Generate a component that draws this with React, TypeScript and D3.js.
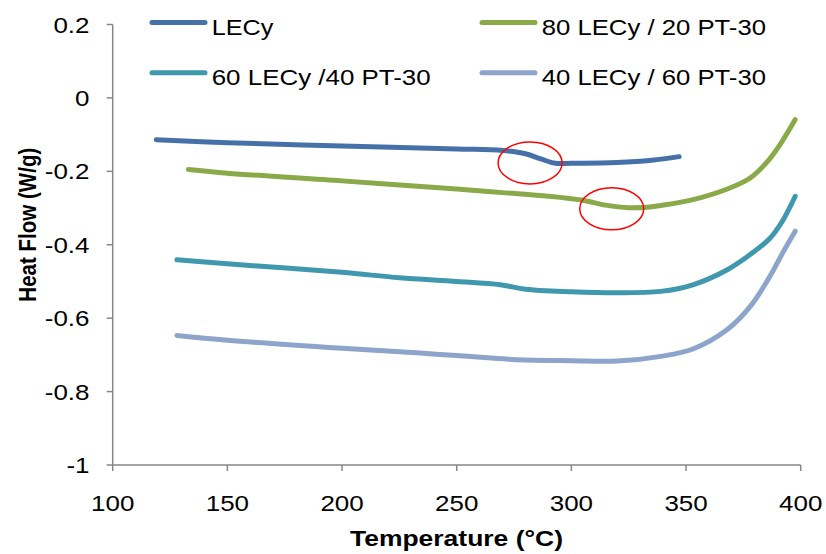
import React from "react";
import * as d3 from "d3";

const xTicks = [100, 150, 200, 250, 300, 350, 400];
const yTicks = [0.2, 0, -0.2, -0.4, -0.6, -0.8, -1];
const yTickLabels = ["0.2", "0", "-0.2", "-0.4", "-0.6", "-0.8", "-1"];

const seriesNames = ["LECy", "80 LECy / 20 PT-30", "60 LECy /40 PT-30", "40 LECy / 60 PT-30"];
const seriesColors = ["#4671A8", "#8AAA4A", "#4098AE", "#8DA4CB"];

const lecy: [number, number][] = [
  [119, -0.114], [150, -0.122], [200, -0.131], [250, -0.139], [270, -0.143],
  [280, -0.152], [287, -0.167], [293, -0.178], [300, -0.178], [320, -0.176],
  [335, -0.170], [347, -0.160],
];
const lecy80: [number, number][] = [
  [133, -0.195], [150, -0.205], [200, -0.226], [250, -0.248], [270, -0.258],
  [290, -0.268], [305, -0.279], [315, -0.292], [325, -0.299], [333, -0.298],
  [339, -0.293], [353, -0.277], [368, -0.248], [378, -0.218], [385, -0.177],
  [391, -0.127], [397.6, -0.059],
];
const lecy60: [number, number][] = [
  [128, -0.441], [150, -0.452], [200, -0.475], [225, -0.490], [250, -0.500],
  [269, -0.509], [280, -0.521], [300, -0.528], [320, -0.531], [339, -0.527],
  [353, -0.509], [368, -0.468], [379, -0.422], [386.5, -0.383], [392, -0.336],
  [397.6, -0.268],
];
const lecy40: [number, number][] = [
  [128, -0.647], [150, -0.660], [200, -0.682], [234, -0.695], [250, -0.702],
  [276, -0.713], [300, -0.716], [320, -0.717], [339, -0.704], [353, -0.684],
  [368, -0.631], [378, -0.568], [386.6, -0.486], [392.5, -0.418], [397.6, -0.363],
];
const seriesData = [lecy, lecy80, lecy60, lecy40];

// annotation ellipses centers (data coords)
const markers: [number, number][] = [[282, -0.177], [317.6, -0.302]];

const FONT = "'Liberation Sans', Arial, sans-serif";
const SX = 1.18;

export default function App() {
  const W = 826, H = 554;
  const x = d3.scaleLinear().domain([100, 400]).range([112.7, 800.7]);
  const y = d3.scaleLinear().domain([-1, 0.2]).range([465, 24.5]);
  const line = d3
    .line<[number, number]>()
    .x((d) => x(d[0]))
    .y((d) => y(d[1]))
    .curve(d3.curveCatmullRom.alpha(0.5));

  const axisColor = "#868686";
  const legendItems = [
    { i: 0, lx: 152, ly: 22.5, tx: 211.7, tl: 61.6 },
    { i: 1, lx: 482, ly: 22.5, tx: 541.7, tl: 224.3 },
    { i: 2, lx: 152, ly: 72.7, tx: 211.7, tl: 219 },
    { i: 3, lx: 482, ly: 72.7, tx: 541.7, tl: 224.3 },
  ];

  return (
    <svg width={W} height={H} style={{ position: "absolute", left: 0, top: 0, background: "#fff" }}>
      <rect width={W} height={H} fill="#fff" />
      {/* axes */}
      <line x1={x(100)} x2={x(400)} y1={y(-1)} y2={y(-1)} stroke={axisColor} strokeWidth={1.5} />
      <line x1={x(100)} x2={x(100)} y1={y(-1)} y2={y(0.2)} stroke={axisColor} strokeWidth={1.5} />
      {xTicks.map((t) => (
        <g key={"xt" + t}>
          <line x1={x(t)} x2={x(t)} y1={y(-1)} y2={y(-1) + 6} stroke={axisColor} strokeWidth={1.5} />
          <text transform={`translate(${x(t)},510.5) scale(${SX},1)`} textAnchor="middle" fontFamily={FONT} fontSize={22} fill="#000">
            {t}
          </text>
        </g>
      ))}
      {yTicks.map((t, k) => (
        <g key={"yt" + k}>
          <line x1={x(100) - 6} x2={x(100)} y1={y(t)} y2={y(t)} stroke={axisColor} strokeWidth={1.5} />
          <text transform={`translate(89.5,${y(t) + 8}) scale(${SX},1)`} textAnchor="end" fontFamily={FONT} fontSize={22} fill="#000">
            {yTickLabels[k]}
          </text>
        </g>
      ))}
      {/* axis titles */}
      <text x={350} y={546} fontFamily={FONT} fontWeight="bold" fontSize={21.5} textLength={213} lengthAdjust="spacingAndGlyphs" fill="#000">
        Temperature (°C)
      </text>
      <text
        transform={`translate(36,301.7) scale(${SX},1) rotate(-90)`}
        x={0}
        y={0}
        fontFamily={FONT}
        fontWeight="bold"
        fontSize={21}
        textLength={154}
        lengthAdjust="spacingAndGlyphs"
        fill="#000"
      >
        Heat Flow (W/g)
      </text>
      {/* series */}
      {seriesData.map((d, i) => (
        <path key={"s" + i} d={line(d) || ""} fill="none" stroke={seriesColors[i]} strokeWidth={5} strokeLinecap="round" strokeLinejoin="round" />
      ))}
      {/* annotation ellipses */}
      {markers.map((m, i) => (
        <ellipse key={"m" + i} cx={x(m[0])} cy={y(m[1])} rx={32} ry={21} fill="none" stroke="#FF0000" strokeWidth={1.5} />
      ))}
      {/* legend */}
      {legendItems.map((it) => (
        <g key={"lg" + it.i}>
          <line x1={it.lx} x2={it.lx + 53} y1={it.ly} y2={it.ly} stroke={seriesColors[it.i]} strokeWidth={5} strokeLinecap="round" />
          <text x={it.tx} y={it.ly + 12} fontFamily={FONT} fontSize={22} textLength={it.tl} lengthAdjust="spacingAndGlyphs" fill="#000">
            {seriesNames[it.i]}
          </text>
        </g>
      ))}
    </svg>
  );
}
